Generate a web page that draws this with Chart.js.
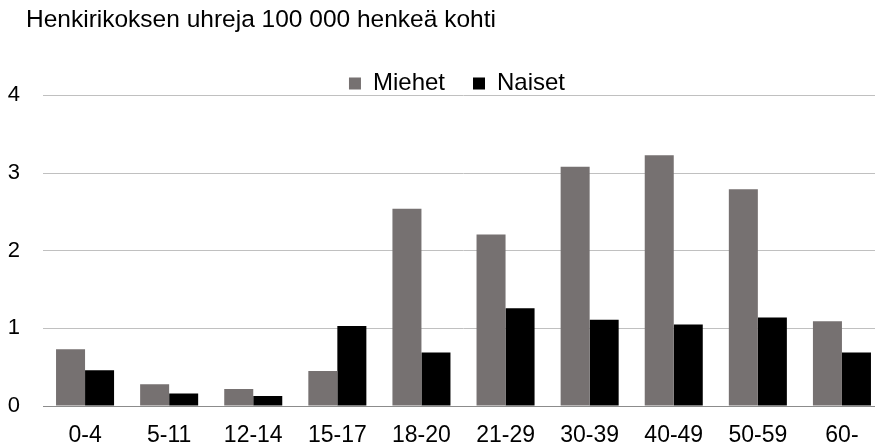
<!DOCTYPE html>
<html>
<head>
<meta charset="utf-8">
<script src="https://cdn.jsdelivr.net/npm/chart.js@4"></script>
<style>
html, body { margin: 0; padding: 0; overflow: hidden; background: #fff; }
</style>
</head>
<body>
<canvas id="myChart" width="886" height="448"></canvas>
<script>
const ikaryhmat = ['0-4', '5-11', '12-14', '15-17', '18-20', '21-29', '30-39', '40-49', '50-59', '60-'];
const miehet = [0.73, 0.28, 0.22, 0.45, 2.54, 2.21, 3.08, 3.23, 2.79, 1.09];
const naiset = [0.46, 0.16, 0.13, 1.03, 0.69, 1.26, 1.11, 1.05, 1.14, 0.69];
const yTicks = [0, 1, 2, 3, 4];

const fontFamily = '"Liberation Sans", Arial, sans-serif';

// siirretään otsikkoa ja selitettä hieman, kuten alkuperäisessä kuvassa
const siirto = {
    id: 'siirto',
    afterLayout(chart) {
        const t = chart.titleBlock;
        t.left += 18; t.right += 18;
        const l = chart.legend;
        l.left += 11; l.right += 11;
        l.top += 8; l.bottom += 8;
    }
};

function createChart() {
    const ctx = document.getElementById('myChart').getContext('2d');
    new Chart(ctx, {
        type: 'bar',
        data: {
            labels: ikaryhmat,
            datasets: [{
                label: 'Miehet',
                data: miehet,
                backgroundColor: '#767171',
                barPercentage: 1,
                categoryPercentage: 0.69
            }, {
                label: 'Naiset',
                data: naiset,
                backgroundColor: '#000000',
                barPercentage: 1,
                categoryPercentage: 0.69
            }]
        },
        options: {
            responsive: false,
            animation: false,
            layout: {
                padding: { left: 8, right: 2, top: 0, bottom: 0 }
            },
            plugins: {
                title: {
                    display: true,
                    text: 'Henkirikoksen uhreja 100 000 henkeä kohti',
                    align: 'start',
                    color: '#000',
                    font: { family: fontFamily, size: 24.5, weight: 'normal' },
                    padding: { top: 6, bottom: 0 }
                },
                legend: {
                    position: 'top',
                    maxHeight: 60,
                    labels: {
                        color: '#000',
                        font: { family: fontFamily, size: 24 },
                        boxWidth: 12,
                        boxHeight: 12,
                        padding: 28
                    }
                },
                tooltip: { enabled: false }
            },
            scales: {
                x: {
                    afterFit: function(axis) {
                        axis.paddingLeft = 0;
                        axis.paddingRight = 0;
                        axis.height = 42;
                    },
                    grid: { display: false, drawTicks: false },
                    border: { display: true, color: '#8c8c8c', width: 1 },
                    ticks: {
                        color: '#000',
                        font: { family: fontFamily, size: 23 },
                        padding: 16,
                        maxRotation: 0,
                        autoSkip: false
                    }
                },
                y: {
                    min: 0,
                    max: 4,
                    afterBuildTicks: function(axis) {
                        axis.ticks = yTicks.map(v => ({ value: v }));
                    },
                    afterFit: function(axis) {
                        axis.paddingTop = 0;
                        axis.paddingBottom = 0;
                        axis.width = 35;
                    },
                    grid: { color: '#c0c0c0', drawTicks: false },
                    border: { display: false },
                    ticks: {
                        color: '#000',
                        font: { family: fontFamily, size: 22 },
                        padding: 23
                    }
                }
            }
        },
        plugins: [siirto]
    });
}

createChart();
</script>
</body>
</html>
